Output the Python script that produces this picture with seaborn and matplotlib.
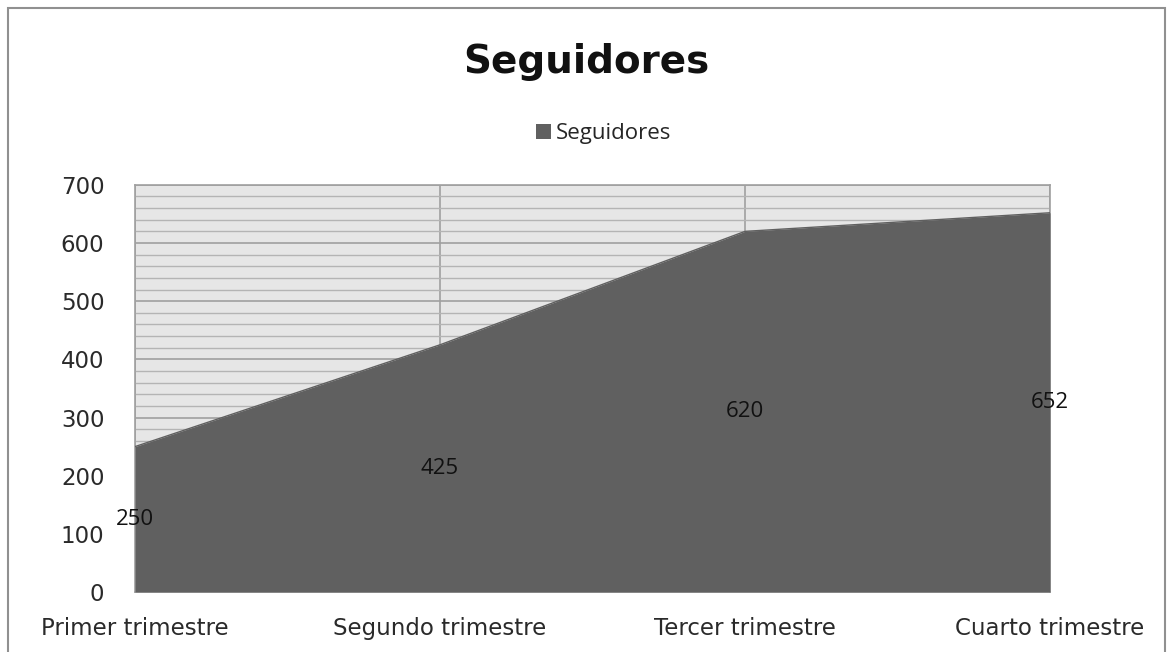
import numpy as np
import pandas as pd
import matplotlib
matplotlib.use("Agg")
import matplotlib.pyplot as plt
import seaborn as sns
from matplotlib.patches import Rectangle, Patch
from matplotlib.ticker import MultipleLocator

# =========================
# DATA
# =========================

categories = ["Primer trimestre", "Segundo trimestre", "Tercer trimestre", "Cuarto trimestre"]
seguidores = [250, 425, 620, 652]
y_ticks = [0, 100, 200, 300, 400, 500, 600, 700]

df = pd.DataFrame({"trimestre": categories, "Seguidores": seguidores})
df["pos"] = range(len(df))

# =========================
# STYLE
# =========================

sns.set_style("white")
plt.rcParams["font.family"] = ["DejaVu Sans"]

fill_color = "#606060"

fig = plt.figure(figsize=(11.72, 6.52), dpi=100)
ax = fig.add_axes([0.1152, 0.092, 0.7807, 0.6245])
ax.set_facecolor("#e6e6e6")

# =========================
# AREA
# =========================

ax.fill_between(df["pos"], df["Seguidores"], 0, color=fill_color, linewidth=0, zorder=3)
sns.lineplot(data=df, x="pos", y="Seguidores", color=fill_color, linewidth=1, ax=ax, zorder=3)

# data labels at half height
for _, row in df.iterrows():
    ax.text(row["pos"], row["Seguidores"] / 2, str(row["Seguidores"]),
            ha="center", va="center", fontsize=16, color="#111111",
            family=["Open Sans", "DejaVu Sans"], zorder=4)

# =========================
# AXES
# =========================

ax.set_xlim(0, len(categories) - 1)
ax.set_ylim(0, 700)
ax.set_yticks(y_ticks)
ax.yaxis.set_minor_locator(MultipleLocator(20))
ax.set_xticks(df["pos"])
ax.set_xticklabels(categories)
ax.tick_params(axis="both", length=0, labelsize=16.5, colors="#2a2a2a")
ax.tick_params(axis="x", pad=18)
ax.tick_params(axis="y", pad=22)
ax.set_xlabel("")
ax.set_ylabel("")

ax.grid(which="major", axis="y", color="#a0a0a0", linewidth=1.2, zorder=1)
ax.grid(which="minor", axis="y", color="#b4b4b4", linewidth=1.0, zorder=1)
ax.grid(which="major", axis="x", color="#a0a0a0", linewidth=1.2, zorder=1)
ax.set_axisbelow(True)

for s in ax.spines.values():
    s.set_color("#a0a0a0")
    s.set_linewidth(1.2)

# =========================
# TITLE & LEGEND
# =========================

fig.text(0.5, 0.905, "Seguidores", ha="center", va="center",
         fontsize=28, fontweight="bold", color="#111111")

fig.legend(handles=[Patch(facecolor=fill_color, edgecolor="none", label="Seguidores")],
           loc="center", bbox_to_anchor=(0.515, 0.795), frameon=False,
           handlelength=0.7, handleheight=0.7, handletextpad=0.2,
           prop={"family": ["Open Sans", "DejaVu Sans"], "size": 16})

# outer chart border
fig.patches.append(Rectangle((0.007, -0.01), 0.987, 0.998, transform=fig.transFigure,
                             fill=False, edgecolor="#909090", linewidth=1.5))

fig.savefig("out.png", dpi=100)
